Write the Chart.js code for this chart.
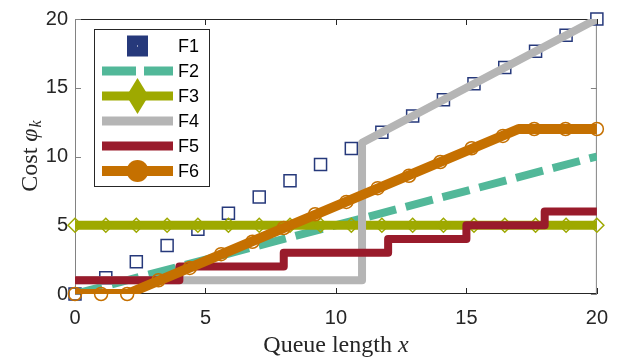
<!DOCTYPE html>
<html>
<head>
<meta charset="utf-8">
<script src="https://cdn.jsdelivr.net/npm/chart.js@4.4.0/dist/chart.umd.min.js"></script>
<style>
  body { margin: 0; background: #fff; }
  #wrap { width: 620px; height: 360px; }
</style>
</head>
<body>
<div id="wrap"><canvas id="chart" width="620" height="360"></canvas></div>
<script>
const seriesNames = ['F1', 'F2', 'F3', 'F4', 'F5', 'F6'];
const xTicks = [0, 5, 10, 15, 20];
const yTicks = [0, 5, 10, 15, 20];

// marker positions shared by F1 and F3
const markX = [0, 1.18, 2.35, 3.53, 4.71, 5.88, 7.06, 8.24, 9.41, 10.59, 11.76, 12.94, 14.12, 15.29, 16.47, 17.65, 18.82, 20];
const f1Y = [0, 1.18, 2.35, 3.53, 4.71, 5.88, 7.06, 8.24, 9.41, 10.59, 11.76, 12.94, 14.12, 15.29, 16.47, 17.65, 18.82, 20];
const f2X = [0, 20];
const f2Y = [0, 10];
const f3Y = [5, 5, 5, 5, 5, 5, 5, 5, 5, 5, 5, 5, 5, 5, 5, 5, 5, 5];
const f4X = [0, 11, 11, 20];
const f4Y = [1, 1, 11, 20];
const f5X = [0, 4, 4, 8, 8, 12, 12, 15, 15, 18, 18, 20];
const f5Y = [1, 1, 2, 2, 3, 3, 4, 4, 5, 5, 6, 6];
const f6X = [0, 2, 17, 20];
const f6Y = [0, 0, 12, 12];
const f6MarkX = [0, 1, 2, 3.2, 4.4, 5.6, 6.8, 8, 9.2, 10.4, 11.6, 12.8, 14, 15.2, 16.4, 17.6, 18.8, 20];
const f6MarkY = [0, 0, 0, 1, 1.9, 2.9, 3.8, 4.8, 5.8, 6.7, 7.7, 8.6, 9.6, 10.6, 11.5, 12, 12, 12];

const colors = {
  F1: '#26397b',
  F2: '#52b899',
  F3: '#9ea900',
  F4: '#b5b5b5',
  F5: '#991b2b',
  F6: '#c57000'
};

function pts(xs, ys) {
  return xs.map((x, i) => ({ x: x, y: ys[i] }));
}

// box, inward ticks and axis titles
const framePlugin = {
  id: 'frame',
  beforeDatasetsDraw(chart) {
    const ctx = chart.ctx;
    const a = chart.chartArea;
    const xs = chart.scales.x, ys = chart.scales.y;
    ctx.save();
    ctx.lineWidth = 1;
    ctx.strokeStyle = '#262626';
    ctx.beginPath();
    ctx.moveTo(a.left, a.top + 0.5); ctx.lineTo(a.right, a.top + 0.5);
    ctx.moveTo(a.left, a.bottom - 0.5); ctx.lineTo(a.right, a.bottom - 0.5);
    xTicks.forEach(v => {
      const px = Math.round(xs.getPixelForValue(v)) + 0.5;
      ctx.moveTo(px, a.bottom); ctx.lineTo(px, a.bottom - 6);
      ctx.moveTo(px, a.top); ctx.lineTo(px, a.top + 6);
    });
    ctx.stroke();
    ctx.strokeStyle = '#828282';
    ctx.beginPath();
    ctx.moveTo(a.left + 0.5, a.top); ctx.lineTo(a.left + 0.5, a.bottom);
    ctx.moveTo(a.right - 0.5, a.top); ctx.lineTo(a.right - 0.5, a.bottom);
    yTicks.forEach(v => {
      const py = Math.round(ys.getPixelForValue(v)) + 0.5;
      ctx.moveTo(a.left, py); ctx.lineTo(a.left + 6, py);
      ctx.moveTo(a.right, py); ctx.lineTo(a.right - 6, py);
    });
    ctx.stroke();

    // axis titles
    ctx.fillStyle = '#262626';
    ctx.textBaseline = 'alphabetic';
    ctx.textAlign = 'left';
    const up = '24px "Liberation Serif"';
    const it = 'italic 24px "Liberation Serif"';
    const sub = 'italic 16px "Liberation Serif"';
    ctx.font = up;
    const w1 = ctx.measureText('Queue length ').width;
    ctx.font = it;
    const w2 = ctx.measureText('x').width;
    let x0 = (a.left + a.right) / 2 - (w1 + w2) / 2;
    ctx.font = up;
    ctx.fillText('Queue length ', x0, 352);
    ctx.font = it;
    ctx.fillText('x', x0 + w1, 352);

    ctx.translate(37, (a.top + a.bottom) / 2);
    ctx.rotate(-Math.PI / 2);
    ctx.font = up;
    const c1 = ctx.measureText('Cost ').width;
    ctx.font = it;
    const c2 = ctx.measureText('\u03c6').width;
    ctx.font = sub;
    const c3 = ctx.measureText('k').width;
    x0 = -(c1 + c2 + c3) / 2;
    ctx.font = up;
    ctx.fillText('Cost ', x0, 0);
    ctx.font = it;
    ctx.fillText('\u03c6', x0 + c1, 0);
    ctx.font = sub;
    ctx.fillText('k', x0 + c1 + c2 + 1, 4);
    ctx.restore();
  },
  afterDraw(chart) {
    const ctx = chart.ctx;
    const bx = 94, by = 29, bw = 115, bh = 157;
    ctx.save();
    ctx.fillStyle = '#ffffff';
    ctx.fillRect(bx, by, bw, bh);
    ctx.strokeStyle = '#262626';
    ctx.lineWidth = 1;
    ctx.strokeRect(bx + 0.5, by + 0.5, bw, bh);
    const l0 = 102, l1 = 173, cx = 137.5;
    seriesNames.forEach((name, i) => {
      const y = 46 + 25 * i;
      const col = colors[name];
      ctx.strokeStyle = col;
      ctx.fillStyle = col;
      ctx.setLineDash([]);
      if (name === 'F1') {
        ctx.fillRect(cx - 10.5, y - 10.5, 21, 21);
        ctx.fillStyle = '#ffffff';
        ctx.fillRect(cx - 0.5, y - 0.5, 1, 1);
      } else {
        ctx.lineWidth = name === 'F6' ? 10 : 9;
        if (name === 'F2') ctx.setLineDash([34, 8]);
        ctx.beginPath();
        ctx.moveTo(l0, y); ctx.lineTo(l1, y);
        ctx.stroke();
        ctx.setLineDash([]);
        if (name === 'F3') {
          ctx.beginPath();
          ctx.moveTo(cx, y - 18); ctx.lineTo(cx + 11, y); ctx.lineTo(cx, y + 18); ctx.lineTo(cx - 11, y);
          ctx.closePath();
          ctx.fill();
        }
        if (name === 'F6') {
          ctx.beginPath();
          ctx.arc(cx, y, 11, 0, Math.PI * 2);
          ctx.fill();
        }
      }
      ctx.fillStyle = '#000000';
      ctx.font = '18px "Liberation Sans"';
      ctx.textBaseline = 'middle';
      ctx.textAlign = 'left';
      ctx.fillText(name, 178, y + 1);
    });
    ctx.restore();
  }
};

const lineBase = { showLine: true, pointRadius: 0, borderJoinStyle: 'round', borderCapStyle: 'butt', fill: false };

new Chart(document.getElementById('chart'), {
  type: 'scatter',
  data: {
    datasets: [
      { label: 'F1', data: pts(markX, f1Y), showLine: false, pointStyle: 'rect', pointRadius: 8.5,
        pointBorderColor: colors.F1, pointBackgroundColor: 'rgba(0,0,0,0)', pointBorderWidth: 1.5, clip: false, order: 7 },
      Object.assign({ label: 'F2', data: pts(f2X, f2Y), borderColor: colors.F2, borderWidth: 8, borderDash: [28, 10], order: 6 }, lineBase),
      Object.assign({}, lineBase, { label: 'F3', data: pts(markX, f3Y), borderColor: colors.F3, borderWidth: 9, pointStyle: 'rectRot', pointRadius: 7,
        pointBorderColor: colors.F3, pointBackgroundColor: 'rgba(0,0,0,0)', pointBorderWidth: 1.5, clip: false, order: 5 }),
      Object.assign({ label: 'F4', data: pts(f4X, f4Y), borderColor: colors.F4, borderWidth: 8, order: 4 }, lineBase),
      Object.assign({ label: 'F5', data: pts(f5X, f5Y), borderColor: colors.F5, borderWidth: 8, order: 3 }, lineBase),
      Object.assign({ label: 'F6', data: pts(f6X, f6Y), borderColor: colors.F6, borderWidth: 10, order: 2 }, lineBase),
      { label: 'F6 markers', data: pts(f6MarkX, f6MarkY), showLine: false, pointStyle: 'circle', pointRadius: 6.5,
        pointBorderColor: colors.F6, pointBackgroundColor: 'rgba(0,0,0,0)', pointBorderWidth: 1.5, clip: false, order: 1 }
    ]
  },
  options: {
    responsive: false,
    animation: false,
    events: [],
    layout: { padding: { left: 0, top: 15, right: 22, bottom: 0 } },
    plugins: { legend: { display: false }, tooltip: { enabled: false } },
    scales: {
      x: {
        type: 'linear', min: 0, max: 20,
        border: { display: false },
        grid: { display: false, drawTicks: false },
        afterBuildTicks: s => { s.ticks = xTicks.map(v => ({ value: v })); },
        afterFit: s => { s.height = 66; },
        ticks: { font: { family: 'Liberation Sans', size: 20 }, color: '#262626', padding: 12, maxRotation: 0 }
      },
      y: {
        type: 'linear', min: 0, max: 20,
        border: { display: false },
        grid: { display: false, drawTicks: false },
        afterBuildTicks: s => { s.ticks = yTicks.map(v => ({ value: v })); },
        afterFit: s => { s.width = 75; },
        ticks: { font: { family: 'Liberation Sans', size: 20 }, color: '#262626', padding: 7 }
      }
    }
  },
  plugins: [framePlugin]
});
</script>
</body>
</html>
